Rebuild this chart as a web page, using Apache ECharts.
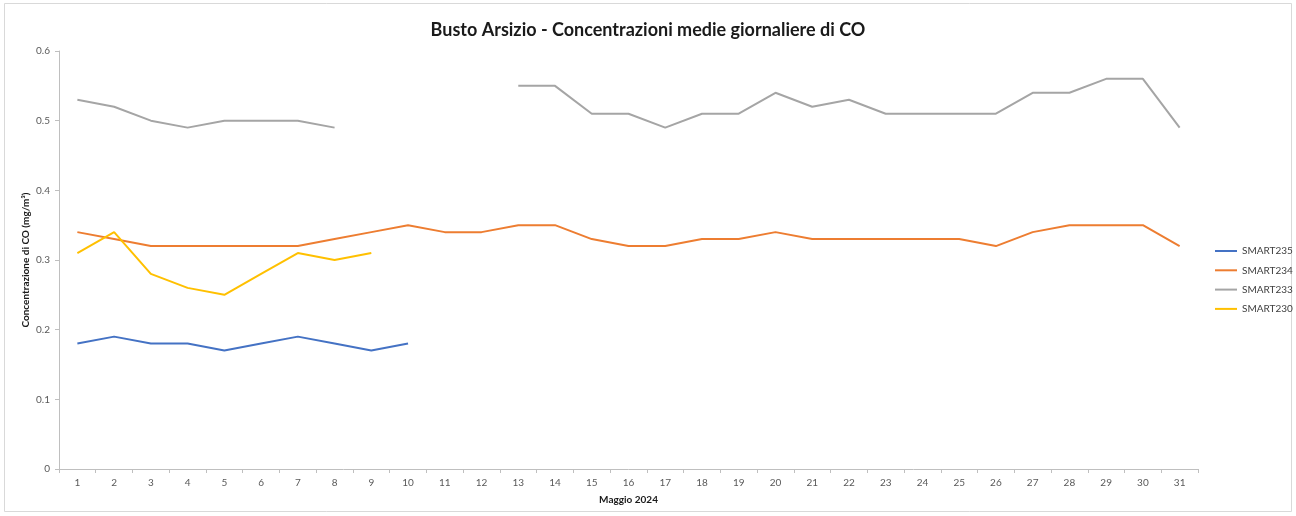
<!DOCTYPE html>
<html>
<head>
<meta charset="utf-8">
<script src="https://cdn.jsdelivr.net/npm/echarts@6/dist/echarts.min.js"></script>
<style>
  html, body { margin: 0; padding: 0; background: #fff; }
  #chart { width: 1296px; height: 516px; }
</style>
</head>
<body>
<div id="chart"></div>
<script>
// Giorni di maggio 2024
const days = Array.from({ length: 31 }, (_, i) => String(i + 1));

// Concentrazioni medie giornaliere di CO (mg/m³) per sensore
const smart235 = [0.18, 0.19, 0.18, 0.18, 0.17, 0.18, 0.19, 0.18, 0.17, 0.18];
const smart234 = [0.34, 0.33, 0.32, 0.32, 0.32, 0.32, 0.32, 0.33, 0.34, 0.35,
                  0.34, 0.34, 0.35, 0.35, 0.33, 0.32, 0.32, 0.33, 0.33, 0.34,
                  0.33, 0.33, 0.33, 0.33, 0.33, 0.32, 0.34, 0.35, 0.35, 0.35, 0.32];
const smart233 = [0.53, 0.52, 0.50, 0.49, 0.50, 0.50, 0.50, 0.49, null, null,
                  null, null, 0.55, 0.55, 0.51, 0.51, 0.49, 0.51, 0.51, 0.54,
                  0.52, 0.53, 0.51, 0.51, 0.51, 0.51, 0.54, 0.54, 0.56, 0.56, 0.49];
const smart230 = [0.31, 0.34, 0.28, 0.26, 0.25, 0.28, 0.31, 0.30, 0.31];

const seriesNames = ['SMART235', 'SMART234', 'SMART233', 'SMART230'];
const seriesData = [smart235, smart234, smart233, smart230];
const seriesColors = ['#4472C4', '#ED7D31', '#A5A5A5', '#FFC000'];

const FONT = 'Lato, "Open Sans", sans-serif';

const chart = echarts.init(document.getElementById('chart'), null, { renderer: 'canvas' });

chart.setOption({
  animation: false,
  backgroundColor: '#ffffff',
  textStyle: { fontFamily: FONT },
  graphic: [{
    type: 'rect',
    shape: { x: 4.5, y: 3.5, width: 1287, height: 508 },
    style: { fill: 'none', stroke: '#d9d9d9', lineWidth: 1 },
    silent: true,
    z: -1
  }],
  title: {
    text: 'Busto Arsizio - Concentrazioni medie giornaliere di CO',
    left: 'center',
    top: 16,
    textStyle: { fontFamily: FONT, fontSize: 18, fontWeight: 'bold', color: '#1a1a1a' }
  },
  legend: {
    orient: 'vertical',
    left: 1210,
    top: 240,
    itemWidth: 22,
    itemHeight: 2,
    itemGap: 7.3,
    icon: 'rect',
    data: seriesNames,
    textStyle: { fontFamily: FONT, fontSize: 10, color: '#404040', lineHeight: 12 }
  },
  grid: { left: 59, right: 98, top: 51, bottom: 47, containLabel: false },
  xAxis: {
    type: 'category',
    data: days,
    boundaryGap: true,
    name: 'Maggio 2024',
    nameLocation: 'middle',
    nameGap: 26,
    nameMoveOverlap: false,
    nameTextStyle: { fontFamily: FONT, fontSize: 10, fontWeight: 'bold', color: '#1a1a1a' },
    axisLine: { lineStyle: { color: '#bfbfbf', width: 1 } },
    axisTick: { show: true, alignWithLabel: false, length: 4, lineStyle: { color: '#bfbfbf' } },
    axisLabel: { fontFamily: FONT, fontSize: 10, color: '#595959', margin: 9, interval: 0 },
    splitLine: { show: false }
  },
  yAxis: {
    type: 'value',
    min: 0,
    max: 0.6,
    interval: 0.1,
    name: 'Concentrazione di CO (mg/m³)',
    nameLocation: 'middle',
    nameGap: 28,
    nameMoveOverlap: false,
    nameTextStyle: { fontFamily: FONT, fontSize: 10, fontWeight: 'bold', color: '#1a1a1a' },
    axisLine: { show: true, lineStyle: { color: '#bfbfbf', width: 1 } },
    axisTick: { show: true, length: 4, lineStyle: { color: '#bfbfbf' } },
    axisLabel: { fontFamily: FONT, fontSize: 10, color: '#595959', margin: 9,
                 formatter: v => String(Math.round(v * 10) / 10) },
    splitLine: { show: false }
  },
  series: seriesNames.map((name, i) => ({
    name,
    type: 'line',
    data: seriesData[i],
    color: seriesColors[i],
    showSymbol: false,
    symbol: 'none',
    connectNulls: false,
    lineStyle: { width: 2, color: seriesColors[i] },
    emphasis: { disabled: true }
  }))
});
</script>
</body>
</html>
